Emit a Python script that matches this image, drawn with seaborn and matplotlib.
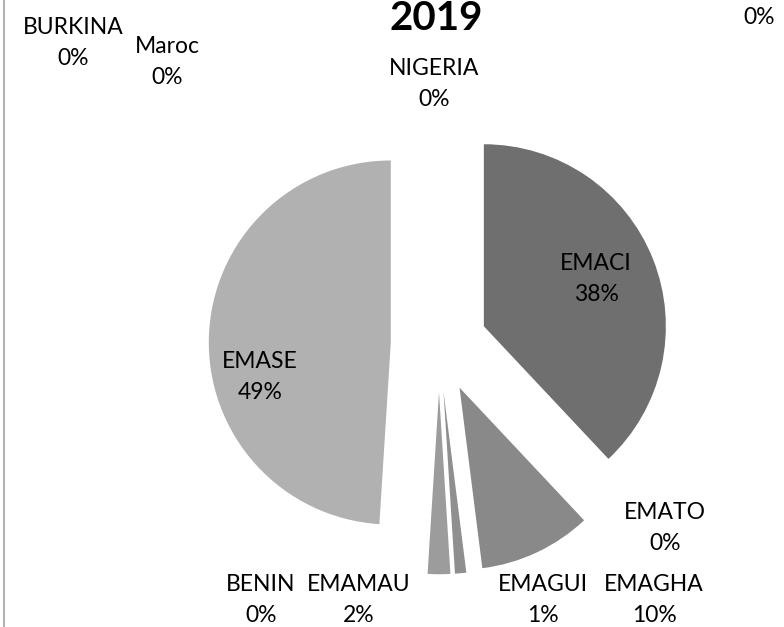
import matplotlib.pyplot as plt
from matplotlib.lines import Line2D
import seaborn as sns

# pie data, clockwise from 12 o'clock
categories = ["EMACI", "EMAGHA", "EMATO", "EMAGUI", "EMAMAU", "BENIN",
              "EMASE", "BURKINA", "Maroc", "NIGERIA", ""]
values = [38, 10, 0, 1, 2, 0, 49, 0, 0, 0, 0]
colors = ["#6f6f6f", "#898989", "#898989", "#8f8f8f", "#9c9c9c", "#a6a6a6",
          "#b1b1b1", "#b1b1b1", "#b1b1b1", "#b1b1b1", "#b1b1b1"]

# label centres in pixels (x from left, y from top), placed like the excel chart
label_xy = {
    "EMACI": (596, 279), "EMAGHA": (654, 600), "EMATO": (665, 528),
    "EMAGUI": (543, 600), "EMAMAU": (359, 600), "BENIN": (261, 600),
    "EMASE": (260, 377), "BURKINA": (73, 43), "Maroc": (167, 62),
    "NIGERIA": (434, 84), "": (759, 17),
}

W, H = 784, 627
R = 182
sns.set_theme(style="white")
plt.rcParams["font.family"] = ["Lato", "DejaVu Sans"]

fig = plt.figure(figsize=(W / 100, H / 100), dpi=100)
ax = fig.add_axes([0, 0, 1, 1])

# explode is in data units, so scale by radius
ax.pie(values, explode=[0.265 * R] * len(values), colors=colors, startangle=90,
       counterclock=False, center=(439, H - 344), radius=R,
       wedgeprops=dict(linewidth=0))
ax.set_xlim(0, W)
ax.set_ylim(0, H)
ax.set_aspect("equal")
ax.axis("off")

for name, v in zip(categories, values):
    txt = f"{name}\n{v}%" if name else f"{v}%"
    x, y = label_xy[name]
    ax.text(x, H - y, txt, ha="center", va="center", fontsize=16.5,
            linespacing=1.55, color="black")

ax.text(436, H - 19, "2019", ha="center", va="center", fontsize=29,
        fontweight="bold", color="black")

# chart border on the left edge
fig.add_artist(Line2D([4 / W, 4 / W], [0, 1], transform=fig.transFigure,
                      color="#b3b3b3", lw=1.5))

fig.savefig("out.png", dpi=100)
